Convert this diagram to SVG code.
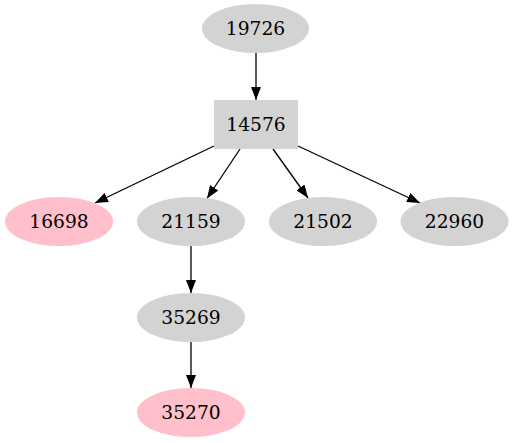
<svg xmlns="http://www.w3.org/2000/svg" width="514" height="443" viewBox="0 0 514 443">
<style>
.g{fill:#d3d3d3;stroke:none}
.p{fill:#ffc0cb;stroke:none}
text{font-family:"DejaVu Serif","Liberation Serif",serif;font-size:18.67px;fill:#000;text-anchor:middle}
.e{stroke:#000;stroke-width:1.3;fill:none}
</style>
<defs>
<marker id="ah" viewBox="0 0 13 10" markerWidth="13" markerHeight="10" refX="13" refY="5" orient="auto" markerUnits="userSpaceOnUse">
<path d="M0,0 L13,5 L0,10 z" fill="#000"/>
</marker>
</defs>
<rect width="514" height="443" fill="#fff"/>
<g id="edges">
<line class="e" x1="256" y1="53" x2="256" y2="100" marker-end="url(#ah)"/>
<line class="e" x1="214" y1="146" x2="95" y2="203" marker-end="url(#ah)"/>
<line class="e" x1="240" y1="149" x2="207" y2="198.5" marker-end="url(#ah)"/>
<line class="e" x1="273" y1="149" x2="308" y2="198" marker-end="url(#ah)"/>
<line class="e" x1="298" y1="146" x2="420" y2="203" marker-end="url(#ah)"/>
<line class="e" x1="191" y1="246" x2="191" y2="293" marker-end="url(#ah)"/>
<line class="e" x1="191" y1="342" x2="191" y2="388" marker-end="url(#ah)"/>
</g>
<g id="n19726"><ellipse class="g" cx="255.5" cy="28.5" rx="53.5" ry="24.5"/><text x="255.5" y="35">19726</text></g>
<g id="n14576"><rect class="g" x="214" y="100" width="84" height="49"/><text x="256" y="131">14576</text></g>
<g id="n16698"><ellipse class="p" cx="59" cy="221.5" rx="54" ry="24.5"/><text x="59" y="228">16698</text></g>
<g id="n21159"><ellipse class="g" cx="191" cy="221.5" rx="54" ry="24.5"/><text x="191" y="228">21159</text></g>
<g id="n21502"><ellipse class="g" cx="323" cy="221.5" rx="54" ry="24.5"/><text x="323" y="228">21502</text></g>
<g id="n22960"><ellipse class="g" cx="454.5" cy="221.5" rx="54" ry="24.5"/><text x="454.5" y="228">22960</text></g>
<g id="n35269"><ellipse class="g" cx="191" cy="317.5" rx="54" ry="24.5"/><text x="191" y="324">35269</text></g>
<g id="n35270"><ellipse class="p" cx="191" cy="412.5" rx="54" ry="24.5"/><text x="191" y="419">35270</text></g>
</svg>
